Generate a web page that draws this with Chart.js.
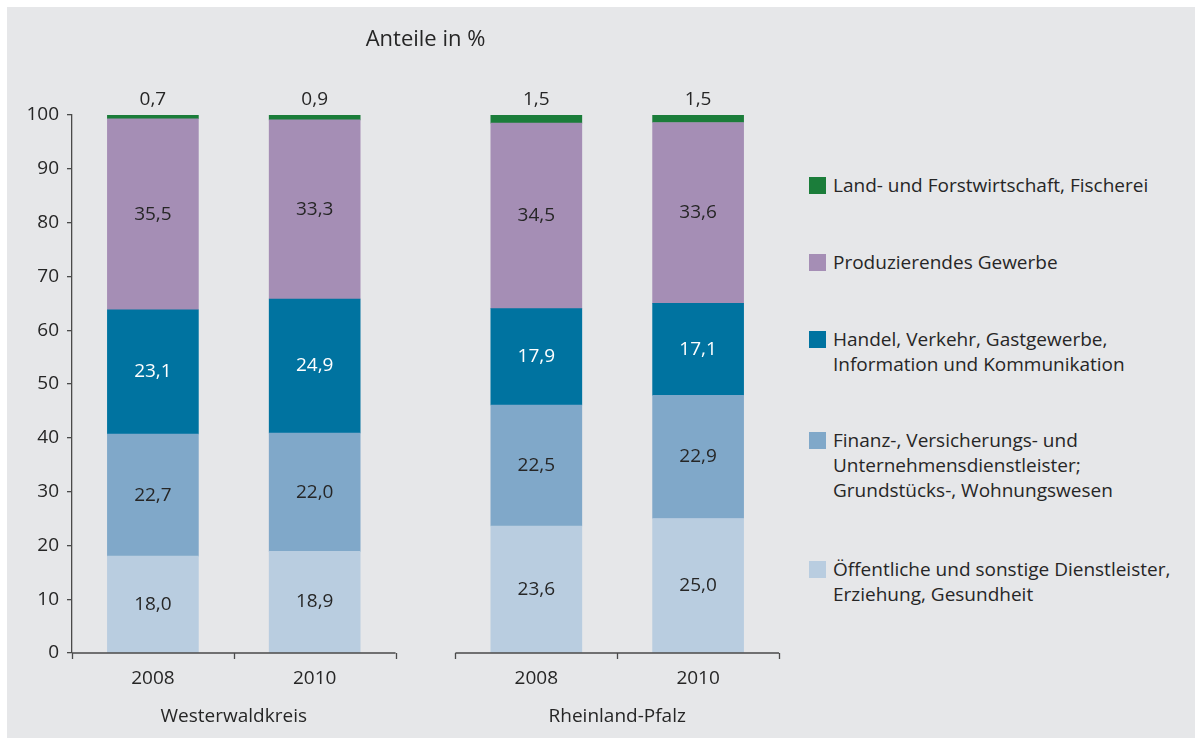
<!DOCTYPE html>
<html lang="de">
<head>
<meta charset="utf-8">
<script src="https://cdn.jsdelivr.net/npm/chart.js@4.4.1/dist/chart.umd.min.js"></script>
<style>
  body { margin: 0; background: #fff; font-family: "Open Sans", sans-serif; }
  #panel { position: absolute; left: 7px; top: 7px; width: 1188px; height: 731px; background: #e6e7e9; }
  #wrap { position: absolute; left: 0; top: 0; width: 780px; height: 731px; }
  #legend { position: absolute; left: 802px; top: 0; width: 390px; height: 731px; }
  .item { position: absolute; left: 0; display: flex; align-items: flex-start; }
  .box { width: 17px; height: 17px; flex: none; margin-right: 7px; }
  .txt { font-size: 19px; line-height: 25px; color: #262626; margin-top: -4px; }
</style>
</head>
<body>
<div id="panel">
  <div id="wrap"><canvas id="chart"></canvas></div>
  <div id="legend"></div>
</div>
<script>
// data, bottom segment first
const groups = ['Westerwaldkreis', 'Rheinland-Pfalz'];
const years = ['2008', '2010', '2008', '2010'];
const sectorNames = [
  'Öffentliche und sonstige Dienstleister,\nErziehung, Gesundheit',
  'Finanz-, Versicherungs- und\nUnternehmensdienstleister;\nGrundstücks-, Wohnungswesen',
  'Handel, Verkehr, Gastgewerbe,\nInformation und Kommunikation',
  'Produzierendes Gewerbe',
  'Land- und Forstwirtschaft, Fischerei'
];
const oeffentlich = [18.0, 18.9, 23.6, 25.0];
const finanz = [22.7, 22.0, 22.5, 22.9];
const handel = [23.1, 24.9, 17.9, 17.1];
const produzierend = [35.5, 33.3, 34.5, 33.6];
const land = [0.7, 0.9, 1.5, 1.5];

const colors = ['#b9cde0', '#80a8c9', '#0073a0', '#a58eb5', '#1b7d3a'];
const labelColors = ['#262626', '#262626', '#ffffff', '#262626', '#262626'];
const legendTops = [561, 432, 331, 254, 177];

const FONT = '"Open Sans", sans-serif';
const GAP = 0.37;
const xPos = [0.5, 1.5, 2.5 + GAP, 3.5 + GAP];
const series = [oeffentlich, finanz, handel, produzierend, land];

const fmt = v => v.toFixed(1).replace('.', ',');

const datasets = series.map((vals, s) => ({
  label: sectorNames[s],
  data: vals.map((v, i) => ({ x: xPos[i], y: v })),
  backgroundColor: colors[s],
  barThickness: 91,
  borderWidth: 0
}));

const segLabels = {
  id: 'segLabels',
  afterDatasetsDraw(chart) {
    const ctx = chart.ctx;
    ctx.save();
    ctx.font = '19px ' + FONT;
    ctx.textAlign = 'center';
    ctx.textBaseline = 'middle';
    chart.data.datasets.forEach((ds, s) => {
      const meta = chart.getDatasetMeta(s);
      meta.data.forEach((el, i) => {
        const v = series[s][i];
        ctx.fillStyle = labelColors[s];
        if (s === series.length - 1) {
          ctx.fillText(fmt(v), el.x, el.y - 15);
        } else {
          ctx.fillText(fmt(v), el.x, (el.y + el.base) / 2);
        }
      });
    });
    // title over the plot area
    const area = chart.chartArea;
    ctx.fillStyle = '#262626';
    ctx.font = '22px ' + FONT;
    ctx.fillText('Anteile in %', (area.left + area.right) / 2, 33);
    ctx.restore();
  }
};

// split x axis: one line per group with tick marks, group names below
const groupAxis = {
  id: 'groupAxis',
  afterDraw(chart) {
    const ctx = chart.ctx;
    const x = chart.scales.x;
    const y0 = chart.scales.y.getPixelForValue(0);
    ctx.save();
    ctx.strokeStyle = '#4a4a4a';
    ctx.lineWidth = 1.3;
    groups.forEach((g, gi) => {
      const start = gi * (2 + GAP);
      ctx.beginPath();
      ctx.moveTo(x.getPixelForValue(start), y0);
      ctx.lineTo(x.getPixelForValue(start + 2), y0);
      [start, start + 1, start + 2].forEach(t => {
        const px = Math.round(x.getPixelForValue(t)) + 0.5;
        ctx.moveTo(px, y0);
        ctx.lineTo(px, y0 + 6);
      });
      ctx.stroke();
      ctx.fillStyle = '#262626';
      ctx.font = '19px ' + FONT;
      ctx.textAlign = 'center';
      ctx.textBaseline = 'middle';
      ctx.fillText(g, x.getPixelForValue(start + 1), y0 + 64);
    });
    ctx.restore();
  }
};

new Chart(document.getElementById('chart'), {
  type: 'bar',
  data: { datasets },
  options: {
    responsive: true,
    maintainAspectRatio: false,
    animation: false,
    layout: { padding: { left: 0, right: 8, top: 108, bottom: 0 } },
    plugins: {
      legend: { display: false },
      tooltip: { enabled: false }
    },
    scales: {
      x: {
        type: 'linear',
        offset: false,
        stacked: true,
        min: 0,
        max: 4 + GAP,
        grid: { display: false },
        border: { display: false },
        afterBuildTicks: sc => { sc.ticks = xPos.map(v => ({ value: v })); },
        afterFit: sc => { sc.height = 85; },
        ticks: {
          padding: 6,
          color: '#262626',
          font: { family: FONT, size: 19 },
          callback: (v, i) => years[i]
        }
      },
      y: {
        stacked: true,
        min: 0,
        max: 100,
        afterFit: sc => { sc.width = 65; },
        grid: { drawOnChartArea: false, tickLength: 5, color: '#4a4a4a', lineWidth: 1.3 },
        border: { display: true, color: '#4a4a4a', width: 1.3 },
        ticks: {
          stepSize: 10,
          padding: 8,
          color: '#262626',
          font: { family: FONT, size: 19 }
        }
      }
    }
  },
  plugins: [segLabels, groupAxis]
});

// legend, top sector first
const legend = document.getElementById('legend');
for (let s = series.length - 1; s >= 0; s--) {
  const item = document.createElement('div');
  item.className = 'item';
  item.style.top = (legendTops[s] - 7) + 'px';
  const box = document.createElement('div');
  box.className = 'box';
  box.style.background = colors[s];
  const txt = document.createElement('div');
  txt.className = 'txt';
  txt.innerHTML = sectorNames[s].split('\n').join('<br>');
  item.appendChild(box);
  item.appendChild(txt);
  legend.appendChild(item);
}
</script>
</body>
</html>
